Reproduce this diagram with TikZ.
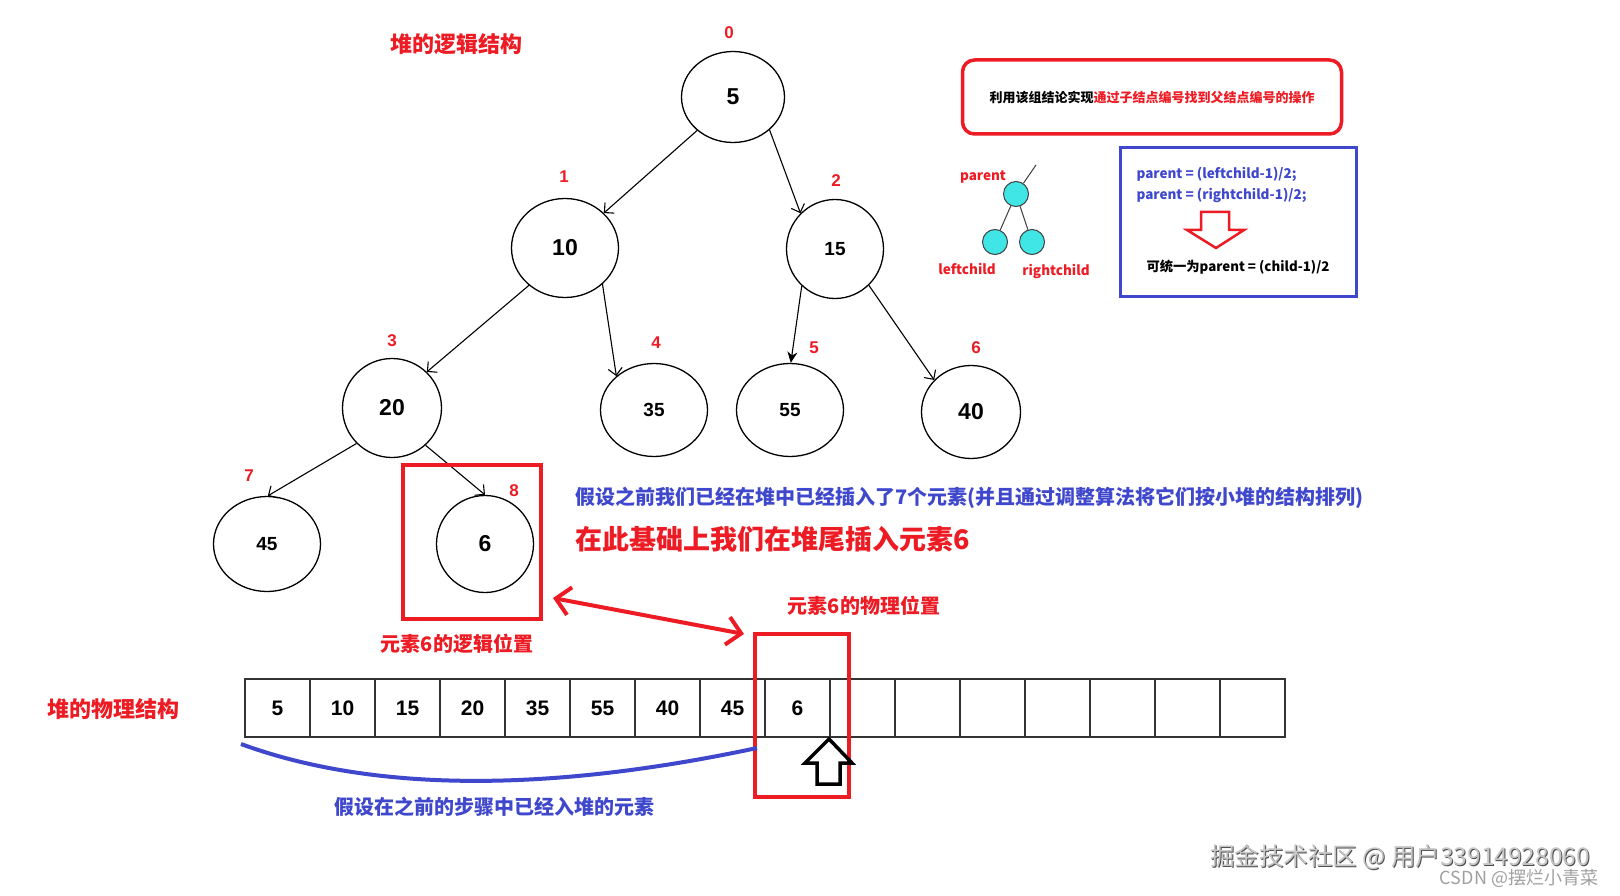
\documentclass[tikz,border=0pt]{standalone}
\usepackage{fontspec}
\setmainfont{Liberation Sans}
\newfontfamily\cjk{Noto Sans CJK SC}
\usetikzlibrary{arrows.meta, shapes.geometric, calc}
\definecolor{PaintRed}{HTML}{ED1C24}
\definecolor{PaintBlue}{HTML}{3F48CC}
\definecolor{AquaBall}{HTML}{40E6E6}
\definecolor{MarkGray}{HTML}{A0A0A0}
\newcommand{\HeapFont}[1]{\bfseries\fontsize{#1}{#1}\selectfont}

\begin{document}
\begin{tikzpicture}[x=1pt, y=-1pt,
  heapnode/.style={draw, ellipse, line width=1.3pt, inner sep=0pt, font={\HeapFont{23}}},
  smallval/.style={font={\HeapFont{19}}},
  idx/.style={text=PaintRed, font={\HeapFont{17}}},
  treeedge/.style={line width=1.1pt, -{Straight Barb[length=7pt,width=14pt]}},
  redtext/.style={text=PaintRed, font={\cjk\HeapFont{20}}},
  bluetext/.style={text=PaintBlue, font={\cjk\HeapFont{20}}},
  cell/.style={draw=black!80, line width=1.2pt, minimum width=65, minimum height=58, inner sep=0pt, font={\HeapFont{21}}},
  ball/.style={circle, draw=black!75, fill=AquaBall, line width=1pt, minimum size=25, inner sep=0pt},
  redframe/.style={draw=PaintRed, line width=4pt, inner sep=0pt}]
  \useasboundingbox[fill=white] (0,0) rectangle (1620,896);

  % logical structure: the heap as a tree
  \node[text=PaintRed, font={\cjk\HeapFont{22}}] (ttree) at (456,44) {堆的逻辑结构};
  \node[heapnode, minimum width=103, minimum height=91] (n0) at (733,97) {5};
  \node[heapnode, minimum width=107, minimum height=99] (n1) at (565,248) {10};
  \node[heapnode, smallval, minimum width=97, minimum height=99] (n2) at (835,249) {15};
  \node[heapnode, minimum width=99, minimum height=99] (n3) at (392,408) {20};
  \node[heapnode, smallval, minimum width=107, minimum height=93] (n4) at (654,410) {35};
  \node[heapnode, smallval, minimum width=107, minimum height=93] (n5) at (790,410) {55};
  \node[heapnode, minimum width=99, minimum height=93] (n6) at (971,412) {40};
  \node[heapnode, smallval, minimum width=107, minimum height=95] (n7) at (267,544) {45};
  \node[heapnode, minimum width=97, minimum height=97] (n8) at (485,544) {6};
  % index of each node
  \node[idx] (i0) at (729,33) {0};
  \node[idx] (i1) at (564,177) {1};
  \node[idx] (i2) at (836,181) {2};
  \node[idx] (i3) at (392,341) {3};
  \node[idx] (i4) at (656,343) {4};
  \node[idx] (i5) at (814,348) {5};
  \node[idx] (i6) at (976,348) {6};
  \node[idx] (i7) at (249,476) {7};
  \node[idx] (i8) at (514,491) {8};
  % parent -> child
  \draw[treeedge] (n0.223) -- (n1.42);
  \draw[treeedge] (n0.318) -- (n2.134);
  \draw[treeedge] (n1.226) -- (n3.46);
  \draw[treeedge] (n1.316) -- (n4.138);
  \draw[line width=1.1pt, -{Stealth[length=11pt,width=10pt]}] (n2.228) -- (n5.89);
  \draw[treeedge] (n2.313) -- (n6.139);
  \draw[treeedge] (n3.225) -- (n7.89);
  \draw[treeedge] (n3.312) -- (n8.90);

  % the rule: child index -> parent index
  \node[draw=PaintRed, line width=3.5pt, rounded corners=12pt, minimum width=379, minimum height=74,
    font={\cjk\HeapFont{13}}] (note) at (1152,97)
    {利用该组结论实现\textcolor{PaintRed}{通过子结点编号找到父结点编号的操作}};
  \node[ball] (bp) at (1016,194) {};
  \node[ball] (bl) at (995,242) {};
  \node[ball] (br) at (1032,242) {};
  \coordinate (bup) at (1036,165);
  \draw[black!75, line width=1pt] (bp) -- (bup);
  \draw[black!75, line width=1pt] (bp) -- (bl);
  \draw[black!75, line width=1pt] (bp) -- (br);
  \node[text=PaintRed, font={\cjk\HeapFont{13.5}}] (lp) at (983,177) {parent};
  \node[text=PaintRed, font={\cjk\HeapFont{13.5}}] (ll) at (967,269) {leftchild};
  \node[text=PaintRed, font={\cjk\HeapFont{13.5}}] (lr) at (1056,272) {rightchild};
  \node[draw=PaintBlue, line width=3pt, minimum width=236, minimum height=149] (fbox) at (1238,222) {};
  \node[anchor=west, text=PaintBlue, font={\cjk\HeapFont{13.5}}] (f1) at (1133,174) {parent = (leftchild-1)/2;};
  \node[anchor=west, text=PaintBlue, font={\cjk\HeapFont{13.5}}] (f2) at (1133,195) {parent = (rightchild-1)/2;};
  \draw[PaintRed, line width=2.5pt] (1201,212) -- (1229,212) -- (1229,230) -- (1244,230)
    -- (1216,248) -- (1187,230) -- (1201,230) -- cycle;
  \node[font={\cjk\HeapFont{13.3}}] (f3) at (1238,267) {可统一为parent = (child-1)/2};

  % what has happened so far
  \node[anchor=west, bluetext] (story) at (572,498)
    {假设之前我们已经在堆中已经插入了7个元素(并且通过调整算法将它们按小堆的结构排列)};
  \node[anchor=west, text=PaintRed, font={\cjk\HeapFont{27}}] (insert) at (572,539)
    {在此基础上我们在堆尾插入元素6};

  % logical vs physical position of the new element
  \node[redframe, minimum width=138, minimum height=154] (logbox) at (472,542) {};
  \node[redtext] (loglbl) at (457,644) {元素6的逻辑位置};
  \node[redtext] (phylbl) at (864,606) {元素6的物理位置};
  \coordinate (dl) at (553,598);
  \coordinate (dr) at (744,634);
  \draw[PaintRed, line width=4pt, {Straight Barb[length=14pt,width=28pt]}-{Straight Barb[length=14pt,width=28pt]}] (dl) -- (dr);

  % physical structure: the array
  \node[text=PaintRed, font={\cjk\HeapFont{22}}] (tarr) at (113,709) {堆的物理结构};
  \foreach \v [count=\i from 0] in {5,10,15,20,35,55,40,45,6}
    \node[cell] (c\i) at ({277.5+65*\i},708) {\v};
  \foreach \i in {9,...,15}
    \node[cell] (c\i) at ({277.5+65*\i},708) {};
  \node[redframe, minimum width=94, minimum height=163] (phybox) at (802,715) {};
  \draw[black, line width=3.5pt, line join=miter] (829,739) -- (852,763) -- (840,763) -- (840,784)
    -- (817,784) -- (817,763) -- (805,763) -- cycle;
  \draw[PaintBlue, line width=4pt] (241,744) .. controls (380,795) and (560,790) .. (757,748);
  \node[bluetext] (donelbl) at (494,807) {假设在之前的步骤中已经入堆的元素};

  % watermarks
  \node[text=black!70, font={\cjk\fontsize{24.5}{24.5}\selectfont}] (wm1s) at (1401,858) {掘金技术社区 @ 用户33914928060};
  \node[text=MarkGray!60, font={\cjk\fontsize{24.5}{24.5}\selectfont}] (wm1) at (1400,857) {掘金技术社区 @ 用户33914928060};
  \node[text=MarkGray, font={\cjk\fontsize{18}{18}\selectfont}] (wm2) at (1519,878) {CSDN @摆烂小青菜};
\end{tikzpicture}
\end{document}
